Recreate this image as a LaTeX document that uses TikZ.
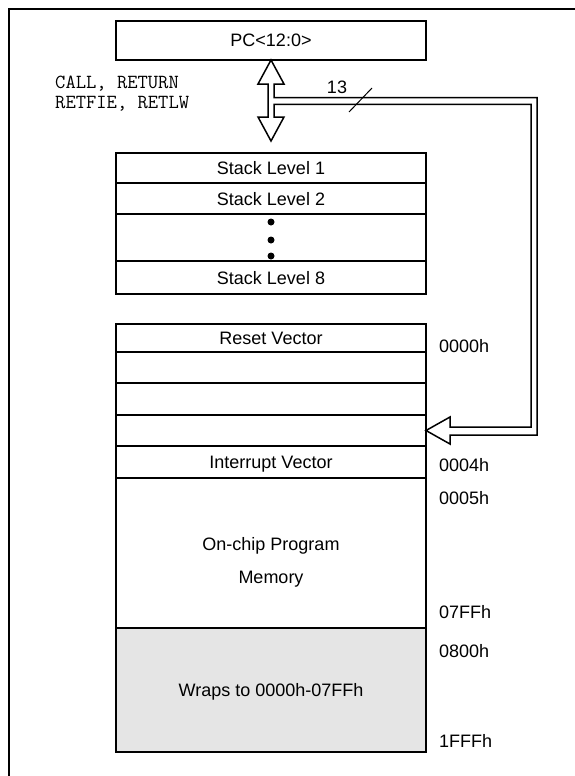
\documentclass[tikz,border=0pt]{standalone}
\usepackage{fontspec}
\setmainfont{Liberation Sans}
\usetikzlibrary{positioning}

\begin{document}
\begin{tikzpicture}[x=1pt,y=-1pt,
	row/.style={draw, line width=1.5pt, minimum width=310pt, inner sep=0pt, outer sep=0pt, text depth=0pt, font=\fontsize{18}{21}\selectfont},
	addr/.style={anchor=west, inner sep=0pt, font=\fontsize{18}{21}\selectfont},
	op/.style={anchor=west, inner sep=0pt, font=\fontsize{20}{21}\ttfamily},
	bus/.style={draw, fill=white, line width=1.5pt}]
			\useasboundingbox (0,0) rectangle (575,776);
			\draw [line width=2pt] (9,776) -- (9,9.5) -- (580,9.5);
			% program counter
			\node [row, minimum height=39pt] (pc) at (271,40.5) {PC<12:0>};
			\node [op] (op1) at (55,84) {CALL, RETURN};
			\node [op] (op2) at (55,104) {RETFIE, RETLW};
			% stack
			\node [row, minimum height=30pt] (s1) at (271,168) {Stack Level 1};
			\node [row, minimum height=31pt, below=0pt of s1] (s2) {Stack Level 2};
			\node [row, minimum height=47pt, below=0pt of s2] (s3) {};
			\node [row, minimum height=33pt, below=0pt of s3] (s8) {Stack Level 8};
			\foreach \y in {222,240,256}
				\fill (271,\y) circle (3.5pt);
			% program memory
			\node [row, minimum height=28pt] (m0) at (271,338) {Reset Vector};
			\node [row, minimum height=31pt, below=0pt of m0] (m1) {};
			\node [row, minimum height=32pt, below=0pt of m1] (m2) {};
			\node [row, minimum height=31pt, below=0pt of m2] (m3) {};
			\node [row, minimum height=32pt, below=0pt of m3] (m4) {Interrupt Vector};
			\node [row, minimum height=150pt, below=0pt of m4] (m5) {};
			\node [row, minimum height=124pt, below=0pt of m5, fill=black!10] (m6) {Wraps to 0000h-07FFh};
			\node [align=center, inner sep=0pt, font=\fontsize{18}{33}\selectfont] (prog) at (271,562.5) {On-chip Program\\Memory};
			\node [addr] (a0) at (439,346) {0000h};
			\node [addr] (a4) at (439,465) {0004h};
			\node [addr] (a5) at (439,498) {0005h};
			\node [addr] (a7) at (439,612) {07FFh};
			\node [addr] (a8) at (439,651) {0800h};
			\node [addr] (af) at (439,741) {1FFFh};
			% 13-bit bus
			\draw [bus] (pc.south) -- (284,84) -- (274,84) -- (274,97.7) -- (537,97.7) -- (537,435)
				-- (450,435) -- (450,444) -- (m3.east) -- (450,417) -- (450,427) -- (531,427) -- (531,104.3)
				-- (274,104.3) -- (274,117) -- (284,117) -- (271,141) -- (258,117) -- (268,117)
				-- (268,84) -- (258,84) -- cycle;
			\draw [line width=1pt] (349,112) -- (372,88);
			\node [inner sep=0pt, font=\fontsize{18}{21}\selectfont] (n13) at (337,87) {13};
			\end{tikzpicture}
\end{document}
